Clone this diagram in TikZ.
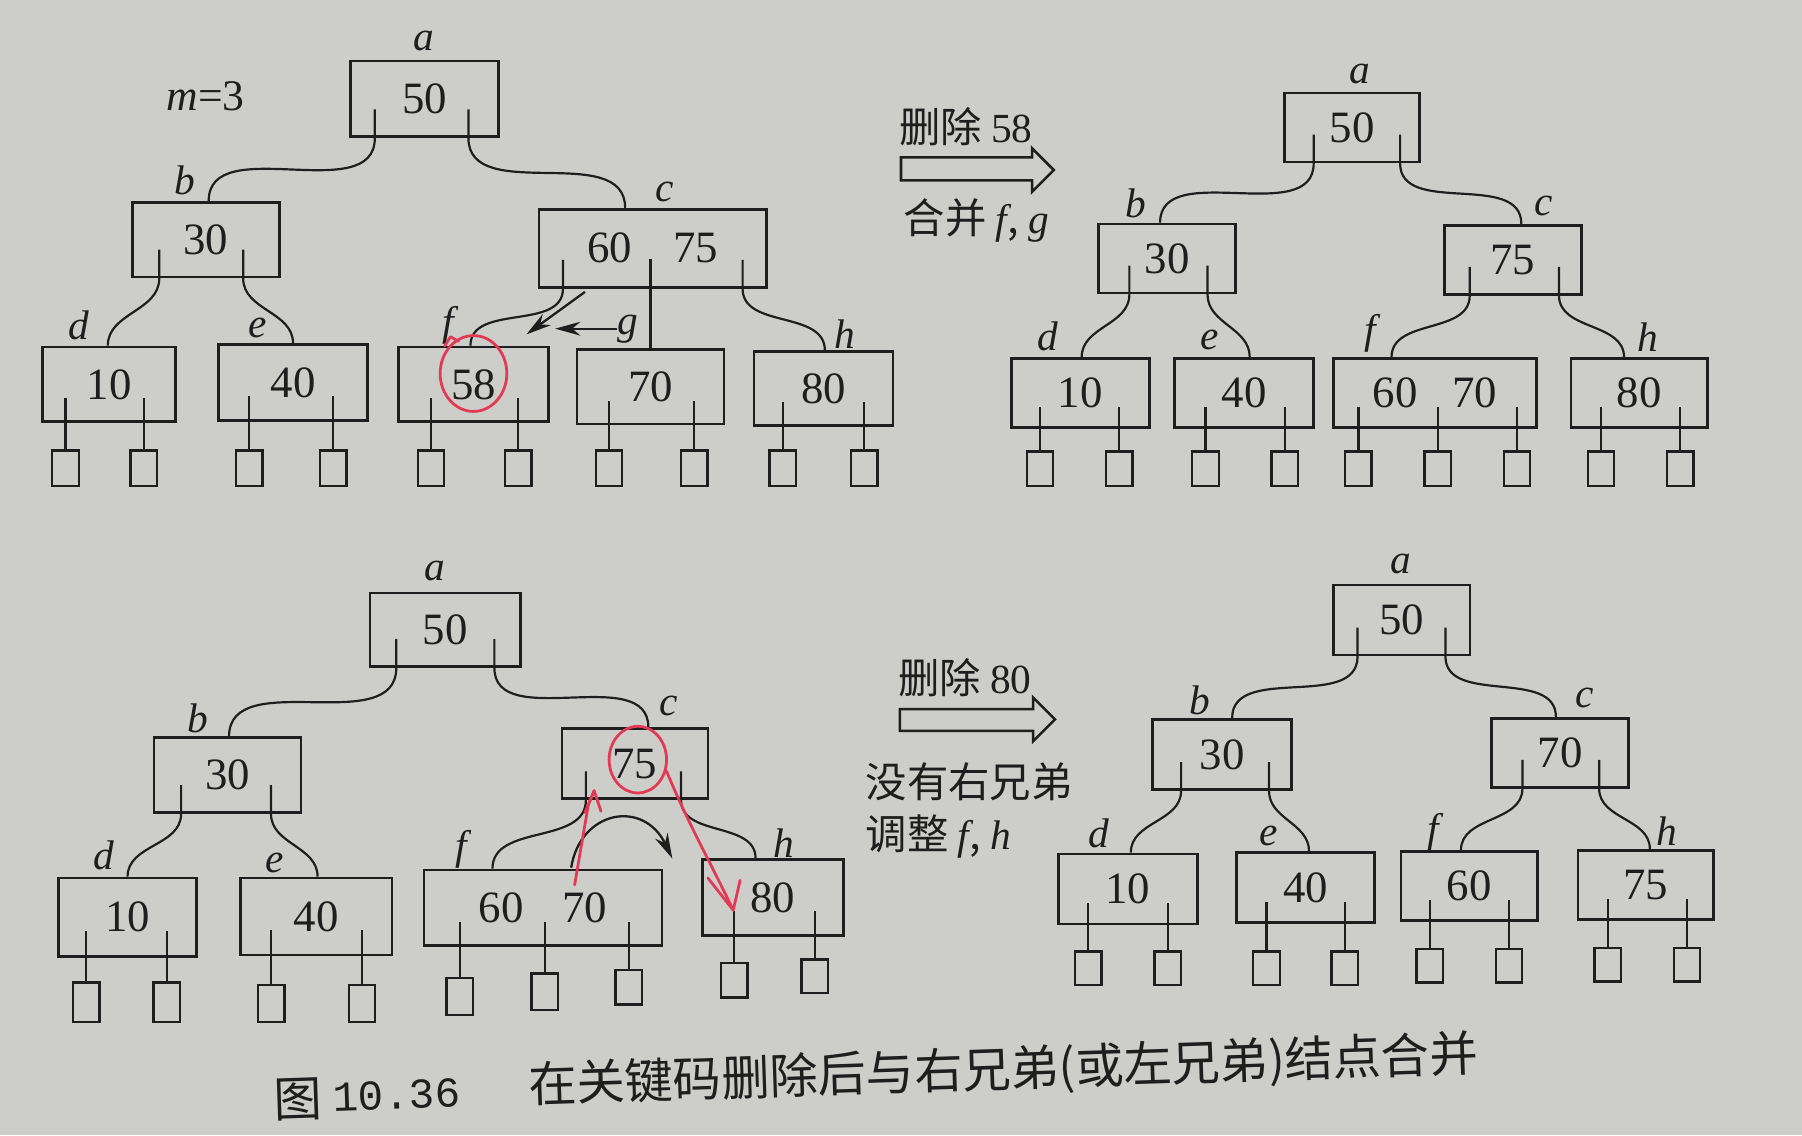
\documentclass[tikz,border=0pt]{standalone}
\usepackage{fontspec}
\setmainfont{Liberation Serif}
\newfontfamily\cjk{Noto Sans CJK SC}
\newfontfamily\capmono{Liberation Mono}
\usetikzlibrary{calc,arrows.meta}
\definecolor{paper}{HTML}{CDCDCA}
\definecolor{ink}{HTML}{1E1E1E}
\definecolor{pen}{HTML}{E23A55}
\tikzset{
  keybox/.style={draw=ink, line width=1.2pt, inner sep=0pt, text=ink,
    font=\fontsize{19.5}{20}\selectfont},
  leafsq/.style={draw=ink, line width=1.0pt, inner sep=0pt, minimum width=11.5pt},
  conn/.style={draw=ink, line width=0.95pt},
  lbl/.style={font=\fontsize{18}{20}\selectfont\itshape, text=ink, inner sep=0pt},
  note/.style={font=\fontsize{18}{20}\selectfont\cjk, text=ink, inner sep=0pt, anchor=west},
  capt/.style={font=\fontsize{21}{24}\selectfont\cjk, text=ink, inner sep=0pt, rotate=1.9},
  hollow/.style={draw=ink, line width=1.1pt, line join=miter},
  redpen/.style={draw=pen, line width=1.2pt, line cap=round, line join=round},
  blackarrow/.style={draw=ink, line width=1.0pt, -{Stealth[length=11pt,width=6pt]}},
}
\newcommand\bx[6]{\node[keybox, minimum width={(#4-#2)*0.5pt}, minimum height={(#5-#3)*0.5pt}] (#1) at ({(#2+#4)/2},{(#3+#5)/2}) {#6};}
\newcommand\sq[4]{\node[leafsq, minimum height={(#4-#3)*0.5pt}] (#1) at (#2,{(#3+#4)/2}) {};}
\newcommand\ptr[4]{\draw[conn] ($(#1.south west)!#2!(#1.south east)+(0,-25)$) -- ($(#1.south west)!#2!(#1.south east)$) to[out=270,in=90] ($(#3.north west)!#4!(#3.north east)$);}
\newcommand\lp[2]{\draw[conn] (#2.north) -- ($(#2.north |- #1.center)+(0,12)$);}
\begin{document}
\begin{tikzpicture}[x=0.5pt,y=-0.5pt]
\fill[paper] (0,0) rectangle (1568,988);
\useasboundingbox (0,0) rectangle (1568,988);

% ================= TOP LEFT =================
\bx{TLa}{305}{53}{434}{119}{50}
\bx{TLb}{115}{176}{243}{241}{30}
\bx{TLc}{469}{182}{667}{250}{60\hspace{18pt}75}
\bx{TLd}{37}{302}{153}{367}{10}
\bx{TLe}{190}{300}{320}{366}{40}
\bx{TLf}{347}{302}{477}{367}{58}
\bx{TLg}{502}{304}{630}{369}{70}
\bx{TLh}{656}{306}{777}{370}{80}
\node[lbl] (lTLa) at (369,36) {a};
\node[lbl] (lTLb) at (161,157) {b};
\node[lbl] (lTLc) at (578,167) {c};
\node[lbl] (lTLd) at (69,283) {d};
\node[lbl] (lTLe) at (224,285) {e};
\node[lbl] (lTLf) at (390,283) {f};
\node[lbl] (lTLg) at (546,286) {g};
\node[lbl] (lTLh) at (735,291) {h};
\node[font=\fontsize{19}{20}\selectfont, text=ink, inner sep=0pt] (mTL) at (179,84) {\textit{m}=3};
\ptr{TLa}{0.17}{TLb}{0.52}
\ptr{TLa}{0.79}{TLc}{0.38}
\ptr{TLb}{0.19}{TLd}{0.49}
\ptr{TLb}{0.75}{TLe}{0.5}
\ptr{TLc}{0.11}{TLf}{0.48}
\ptr{TLc}{0.89}{TLh}{0.51}
\draw[conn] ($(TLg.north |- TLc.south)+(0,-26)$) -- (TLg.north);
\sq{TLs1}{57}{392}{423}\sq{TLs2}{125}{392}{423}
\sq{TLs3}{217}{392}{423}\sq{TLs4}{290}{392}{423}
\sq{TLs5}{375}{392}{423}\sq{TLs6}{451}{392}{423}
\sq{TLs7}{530}{392}{423}\sq{TLs8}{604}{392}{423}
\sq{TLs9}{681}{392}{423}\sq{TLs10}{752}{392}{423}
\lp{TLd}{TLs1}\lp{TLd}{TLs2}\lp{TLe}{TLs3}\lp{TLe}{TLs4}
\lp{TLf}{TLs5}\lp{TLf}{TLs6}\lp{TLg}{TLs7}\lp{TLg}{TLs8}
\lp{TLh}{TLs9}\lp{TLh}{TLs10}
\coordinate (ar1s) at (509,254);
\coordinate (ar1e) at (458,291);
\coordinate (ar2e) at (483,286);
\draw[blackarrow] (ar1s) -- (ar1e);
\draw[blackarrow] (lTLg.west) -- (ar2e);
\draw[redpen] (412,325) ellipse [x radius=29, y radius=33];
\draw[redpen] (387,301) -- (392,293) -- (399,297);

% ================= TOP RIGHT =================
\node[note] (nT1) at (782,110) {删除 {\rmfamily 58}};
\draw[hollow] (784,137) -- (898,137) -- (898,129) -- (917,148) -- (898,167) -- (898,157) -- (784,157) -- cycle;
\node[note] (nT2) at (786,192) {合并 {\rmfamily\itshape f}, {\rmfamily\itshape g}};
\bx{TRa}{1118}{81}{1235}{141}{50}
\bx{TRb}{956}{195}{1075}{255}{30}
\bx{TRc}{1257}{196}{1376}{256}{75}
\bx{TRd}{880}{312}{1000}{372}{10}
\bx{TRe}{1022}{312}{1143}{372}{40}
\bx{TRf}{1160}{312}{1337}{372}{60\hspace{15pt}70}
\bx{TRh}{1367}{312}{1486}{372}{80}
\node[lbl] (lTRa) at (1183,64) {a};
\node[lbl] (lTRb) at (988,177) {b};
\node[lbl] (lTRc) at (1343,179) {c};
\node[lbl] (lTRd) at (912,293) {d};
\node[lbl] (lTRe) at (1053,296) {e};
\node[lbl] (lTRf) at (1192,290) {f};
\node[lbl] (lTRh) at (1434,293) {h};
\ptr{TRa}{0.22}{TRb}{0.45}
\ptr{TRa}{0.85}{TRc}{0.56}
\ptr{TRb}{0.23}{TRd}{0.51}
\ptr{TRb}{0.79}{TRe}{0.54}
\ptr{TRc}{0.19}{TRf}{0.29}
\ptr{TRc}{0.83}{TRh}{0.39}
\sq{TRs1}{905}{393}{423}\sq{TRs2}{974}{393}{423}
\sq{TRs3}{1049}{393}{423}\sq{TRs4}{1118}{393}{423}
\sq{TRs5}{1182}{393}{423}\sq{TRs6}{1251}{393}{423}\sq{TRs7}{1320}{393}{423}
\sq{TRs8}{1393}{393}{423}\sq{TRs9}{1462}{393}{423}
\lp{TRd}{TRs1}\lp{TRd}{TRs2}\lp{TRe}{TRs3}\lp{TRe}{TRs4}
\lp{TRf}{TRs5}\lp{TRf}{TRs6}\lp{TRf}{TRs7}\lp{TRh}{TRs8}\lp{TRh}{TRs9}

% ================= BOTTOM LEFT =================
\bx{BLa}{322}{516}{453}{580}{50}
\bx{BLb}{134}{642}{262}{707}{30}
\bx{BLc}{489}{634}{616}{695}{75}
\bx{BLd}{51}{764}{171}{832}{10}
\bx{BLe}{209}{764}{341}{831}{40}
\bx{BLf}{369}{757}{576}{823}{60\hspace{17pt}70}
\bx{BLh}{611}{748}{734}{814}{80}
\node[lbl] (lBLa) at (378,497) {a};
\node[lbl] (lBLb) at (172,625) {b};
\node[lbl] (lBLc) at (582,614) {c};
\node[lbl] (lBLd) at (90,744) {d};
\node[lbl] (lBLe) at (239,751) {e};
\node[lbl] (lBLf) at (401,739) {f};
\node[lbl] (lBLh) at (682,734) {h};
\ptr{BLa}{0.18}{BLb}{0.51}
\ptr{BLa}{0.82}{BLc}{0.59}
\ptr{BLb}{0.19}{BLd}{0.5}
\ptr{BLb}{0.79}{BLe}{0.51}
\ptr{BLc}{0.17}{BLf}{0.29}
\ptr{BLc}{0.81}{BLh}{0.38}
\sq{BLs1}{75}{855}{889}\sq{BLs2}{145}{855}{889}
\sq{BLs3}{236}{857}{889}\sq{BLs4}{315}{857}{889}
\sq{BLs5}{400}{851}{883}\sq{BLs6}{474}{847}{879}\sq{BLs7}{547}{844}{874}
\sq{BLs8}{639}{838}{868}\sq{BLs9}{709}{835}{864}
\lp{BLd}{BLs1}\lp{BLd}{BLs2}\lp{BLe}{BLs3}\lp{BLe}{BLs4}
\lp{BLf}{BLs5}\lp{BLf}{BLs6}\lp{BLf}{BLs7}\lp{BLh}{BLs8}\lp{BLh}{BLs9}
\coordinate (arcS) at (497,755);
\coordinate (arcE) at (585,747);
\draw[blackarrow] (arcS) .. controls (505,705) and (560,695) .. (arcE);
\draw[redpen] (555,661) ellipse [x radius=25, y radius=29];
\draw[redpen] (500,770) -- (512,700) -- (517,688);
\draw[redpen] (509,707) -- (517,688) -- (523,706);
\draw[redpen] (580,671) .. controls (598,715) and (618,750) .. (638,792);
\draw[redpen] (616,764) -- (638,792) -- (644,766);

% ================= BOTTOM RIGHT =================
\node[note] (nB1) at (781,590) {删除 {\rmfamily 80}};
\draw[hollow] (783,617) -- (899,617) -- (899,607) -- (918,626) -- (899,645) -- (899,636) -- (783,636) -- cycle;
\node[note] (nB2) at (753,680) {没有右兄弟};
\node[note] (nB3) at (753,728) {调整 {\rmfamily\itshape f}, {\rmfamily\itshape h}};
\bx{BRa}{1160}{509}{1279}{570}{50}
\bx{BRb}{1003}{626}{1124}{687}{30}
\bx{BRc}{1298}{625}{1417}{685}{70}
\bx{BRd}{921}{743}{1042}{804}{10}
\bx{BRe}{1076}{742}{1196}{803}{40}
\bx{BRf}{1219}{741}{1338}{801}{60}
\bx{BRh}{1373}{740}{1491}{800}{75}
\node[lbl] (lBRa) at (1219,491) {a};
\node[lbl] (lBRb) at (1044,609) {b};
\node[lbl] (lBRc) at (1379,607) {c};
\node[lbl] (lBRd) at (956,725) {d};
\node[lbl] (lBRe) at (1104,727) {e};
\node[lbl] (lBRf) at (1247,724) {f};
\node[lbl] (lBRh) at (1450,723) {h};
\ptr{BRa}{0.185}{BRb}{0.57}
\ptr{BRa}{0.815}{BRc}{0.47}
\ptr{BRb}{0.21}{BRd}{0.52}
\ptr{BRb}{0.83}{BRe}{0.525}
\ptr{BRc}{0.23}{BRf}{0.44}
\ptr{BRc}{0.78}{BRh}{0.53}
\sq{BRs1}{947}{828}{857}\sq{BRs2}{1016}{828}{857}
\sq{BRs3}{1102}{828}{857}\sq{BRs4}{1170}{828}{857}
\sq{BRs5}{1244}{826}{855}\sq{BRs6}{1313}{826}{855}
\sq{BRs7}{1399}{825}{854}\sq{BRs8}{1468}{825}{854}
\lp{BRd}{BRs1}\lp{BRd}{BRs2}\lp{BRe}{BRs3}\lp{BRe}{BRs4}
\lp{BRf}{BRs5}\lp{BRf}{BRs6}\lp{BRh}{BRs7}\lp{BRh}{BRs8}

% ================= CAPTION =================
\node[capt] (capFig) at (259,957) {图};
\node[font=\capmono\fontsize{18.5}{20}\selectfont, text=ink, inner sep=0pt, rotate=1.9] (capNum) at (345,953) {10.36};
\node[capt] (capTxt) at (873,932) {在关键码删除后与右兄弟(或左兄弟)结点合并};
\end{tikzpicture}
\end{document}
